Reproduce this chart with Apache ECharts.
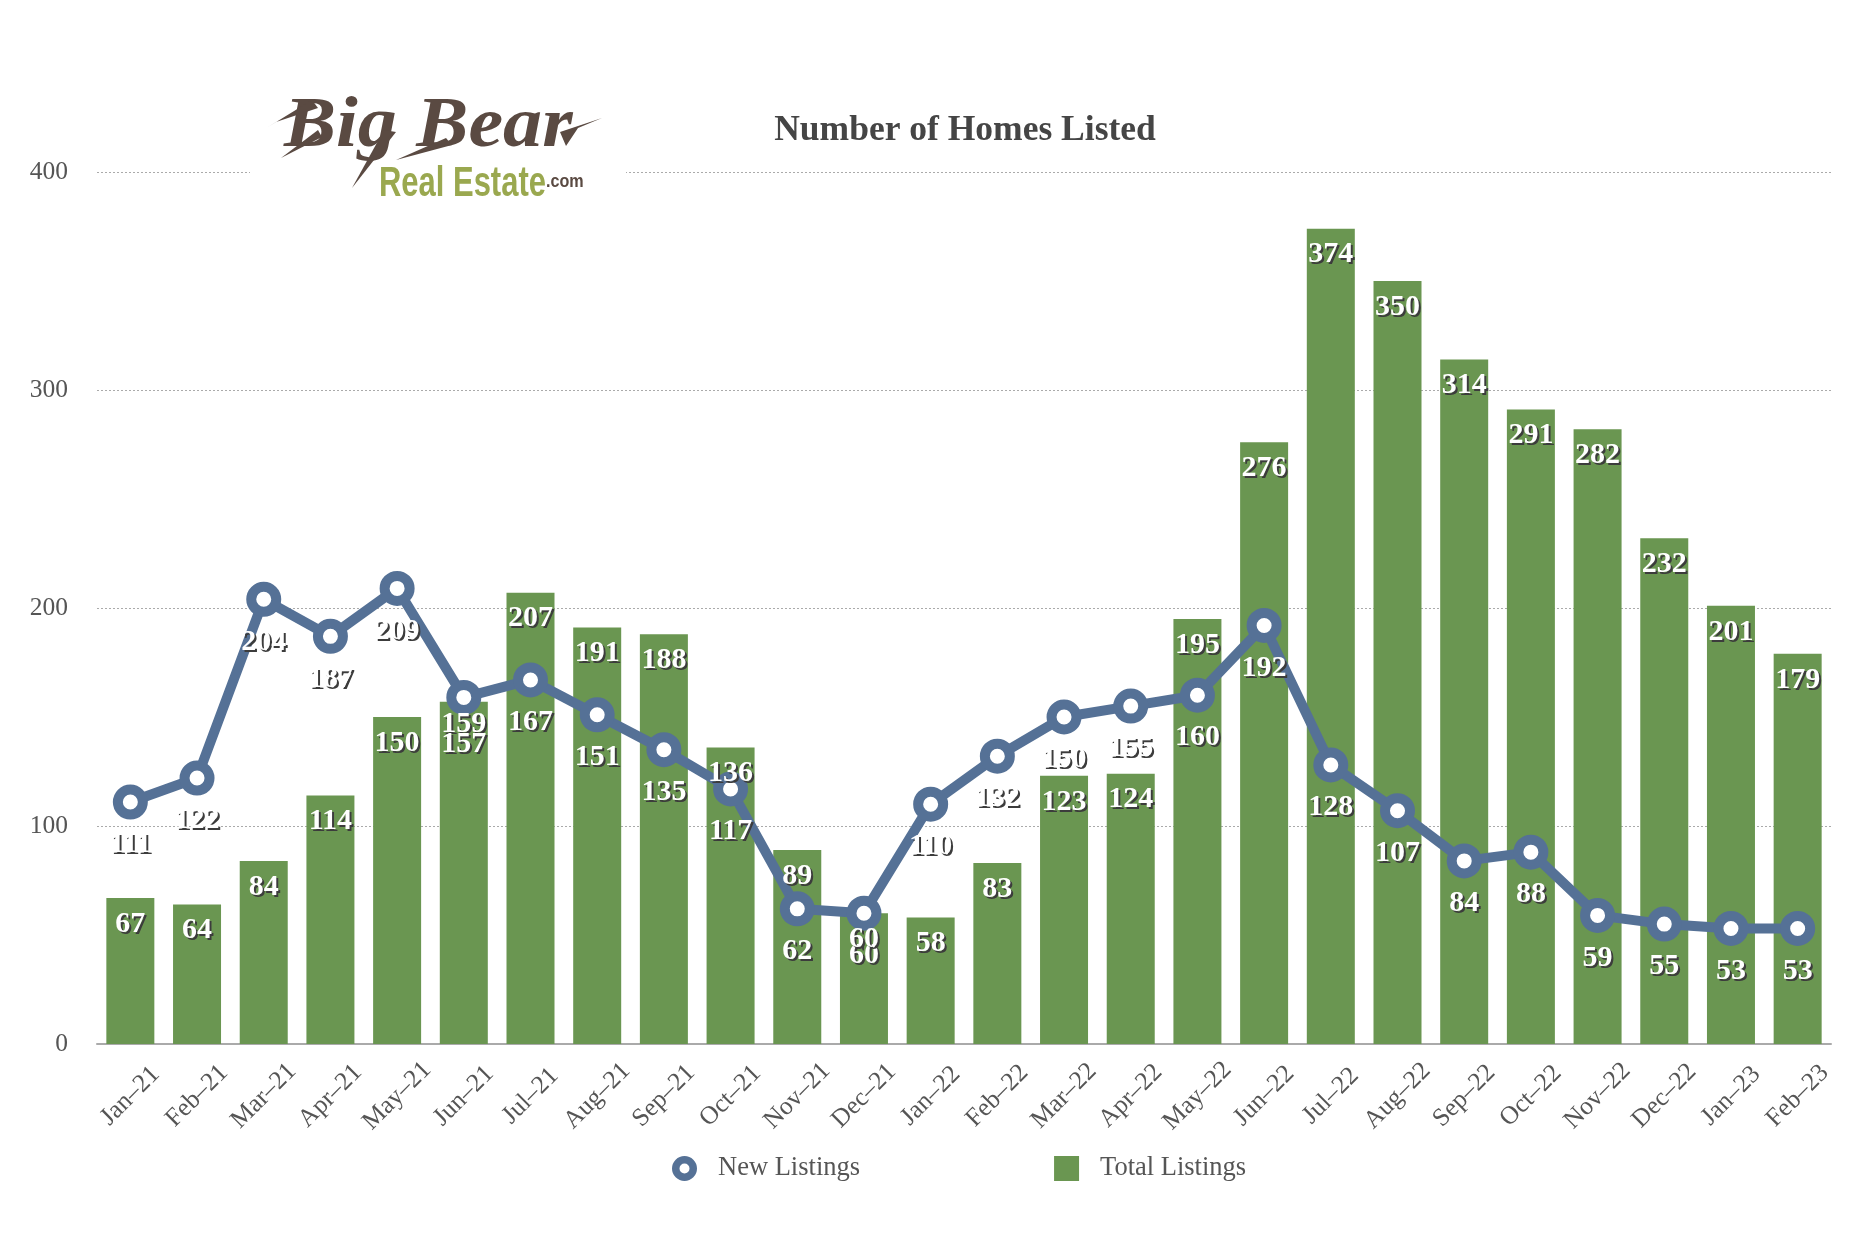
<!DOCTYPE html>
<html>
<head>
<meta charset="utf-8">
<title>Number of Homes Listed</title>
<script src="https://cdn.jsdelivr.net/npm/echarts@6/dist/echarts.min.js"></script>
<style>
	html, body { margin: 0; padding: 0; background: #fff; }
	#homesChart { width: 1870px; height: 1260px; }
</style>
</head>
<body>
<div id="homesChart"></div>
<script>
var months = ['Jan–21', 'Feb–21', 'Mar–21', 'Apr–21', 'May–21', 'Jun–21', 'Jul–21', 'Aug–21', 'Sep–21', 'Oct–21', 'Nov–21', 'Dec–21', 'Jan–22', 'Feb–22', 'Mar–22', 'Apr–22', 'May–22', 'Jun–22', 'Jul–22', 'Aug–22', 'Sep–22', 'Oct–22', 'Nov–22', 'Dec–22', 'Jan–23', 'Feb–23'];
var newListings = [111, 122, 204, 187, 209, 159, 167, 151, 135, 117, 62, 60, 110, 132, 150, 155, 160, 192, 128, 107, 84, 88, 59, 55, 53, 53];
var totalListings = [67, 64, 84, 114, 150, 157, 207, 191, 188, 136, 89, 60, 58, 83, 123, 124, 195, 276, 374, 350, 314, 291, 282, 232, 201, 179];

var serif = '"Liberation Serif", serif';
var blue = '#557196';
var green = '#6a9651';
var brown = '#5a4a42';
var olive = '#9aa84f';
var ringIcon = 'path://M12.5 0A12.5 12.5 0 1 1 12.5 25A12.5 12.5 0 1 1 12.5 0ZM12.5 7.5A5 5 0 1 0 12.5 17.5A5 5 0 1 0 12.5 7.5Z';

//白字带硬阴影的数据标签
function valueLabel(position, distance) {
	return {
		show: true,
		position: position,
		distance: distance,
		color: '#fff',
		fontFamily: serif,
		fontWeight: 'bold',
		fontSize: 30,
		textShadowColor: '#3c3c3c',
		textShadowOffsetX: 2,
		textShadowOffsetY: 2,
		textShadowBlur: 0.5
	};
}

//Jun-21 两个标签在原图里被手动错开
function nudged(values, index, offsetY) {
	return values.map(function(value, i) {
		if (i === index) {
			return { value: value, label: { offset: [0, offsetY] } };
		}
		return value;
	});
}

//logo 的笔锋
function stroke(points) {
	return {
		type: 'polygon',
		shape: { points: points },
		style: { fill: brown },
		z: 6
	};
}

var homesChart = echarts.init(document.getElementById('homesChart'));
var option = {
	backgroundColor: '#fff',
	animation: false,
	title: {
		text: 'Number of Homes Listed',
		left: 960,
		top: 108,
		textAlign: 'center',
		textStyle: {
			fontFamily: serif,
			fontWeight: 'bold',
			fontSize: 35.5,
			color: '#454545'
		}
	},
	legend: {
		left: 667,
		top: 1150,
		itemGap: 194,
		itemWidth: 25,
		itemHeight: 25,
		textStyle: {
			fontFamily: serif,
			fontSize: 26.5,
			color: '#555',
			padding: [0, 0, 0, 16]
		},
		data: [{
			name: 'New Listings',
			icon: ringIcon,
			itemStyle: {
				color: blue,
				borderWidth: 0
			},
			lineStyle: {
				opacity: 0
			}
		}, {
			name: 'Total Listings',
			icon: 'rect'
		}]
	},
	grid: {
		left: 97,
		right: 39,
		top: 172,
		bottom: 216
	},
	xAxis: {
		type: 'category',
		data: months,
		axisTick: {
			show: false
		},
		axisLine: {
			lineStyle: {
				color: '#aaa',
				width: 2
			}
		},
		axisLabel: {
			interval: 0,
			rotate: 45,
			align: 'center',
			verticalAlign: 'middle',
			margin: 52,
			fontFamily: serif,
			fontSize: 25.5,
			color: '#555'
		}
	},
	yAxis: {
		type: 'value',
		min: 0,
		max: 400,
		interval: 100,
		axisLine: {
			show: false
		},
		axisTick: {
			show: false
		},
		axisLabel: {
			margin: 29,
			padding: [6, 0, 0, 0],
			fontFamily: serif,
			fontSize: 25.5,
			color: '#555'
		},
		splitLine: {
			lineStyle: {
				color: '#aaa',
				type: [2, 2],
				width: 1
			}
		}
	},
	series: [{
		name: 'Total Listings',
		type: 'bar',
		barWidth: 48,
		barGap: '-100%',
		data: totalListings,
		itemStyle: {
			color: green
		},
		z: 1
	}, {
		name: 'New Listings',
		type: 'line',
		data: nudged(newListings, 5, -16),
		symbol: 'circle',
		symbolSize: 25,
		showAllSymbol: true,
		lineStyle: {
			color: blue,
			width: 10
		},
		itemStyle: {
			color: '#fff',
			borderColor: blue,
			borderWidth: 10
		},
		label: valueLabel('bottom', 10),
		z: 2
	}, {
		//透明柱只用来放标签，让柱子的数字压在折线上面
		name: 'Total Listings Labels',
		type: 'bar',
		barWidth: 48,
		barGap: '-100%',
		data: nudged(totalListings, 5, 17),
		itemStyle: {
			color: 'transparent'
		},
		label: valueLabel('insideTop', 11),
		z: 3
	}],
	//logo：白底挡住网格线，文字和笔锋都是近似
	graphic: [{
		type: 'rect',
		x: 250,
		y: 165,
		shape: { width: 376, height: 16 },
		style: { fill: '#fff' },
		z: 5
	}, {
		type: 'text',
		x: 284,
		y: 92,
		scaleX: 1.1,
		style: {
			text: 'Big Bear',
			font: 'italic bold 71px ' + serif,
			fill: brown
		},
		z: 6
	},
	stroke([[268, 127], [312, 100], [318, 108], [276, 122]]),
	stroke([[281, 158], [318, 130], [322, 137]]),
	stroke([[352, 188], [384, 130], [396, 132]]),
	stroke([[396, 160], [446, 138], [452, 145]]),
	stroke([[560, 132], [602, 118], [578, 128], [566, 146]]),
	{
		type: 'text',
		x: 379,
		y: 163,
		scaleX: 0.72,
		style: {
			text: 'Real Estate',
			font: 'bold 43px "Liberation Sans", sans-serif',
			fill: olive
		},
		z: 6
	}, {
		type: 'text',
		x: 546,
		y: 172,
		scaleX: 0.85,
		style: {
			text: '.com',
			font: 'bold 19px "Liberation Sans", sans-serif',
			fill: brown
		},
		z: 6
	}]
};
homesChart.setOption(option, true);
</script>
</body>
</html>
